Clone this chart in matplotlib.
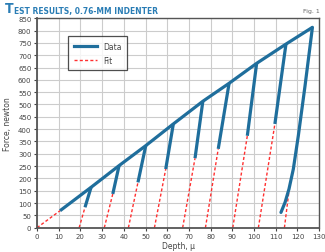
import numpy as np
import matplotlib.pyplot as plt

# --- datos ---
# curva de carga
load_depth = [10.6, 24.9, 37.8, 50.1, 62.8, 76.4, 88.5, 101.2, 114.7, 126.9]
load_force = [69, 164, 252, 333, 421, 513, 586, 667, 745, 813]

# descargas parciales (bajo, desde el pico hasta el punto inferior)
unload_bot_depth = [22.1, 34.9, 46.5, 59.3, 72.8, 83.5, 96.9, 109.6]
unload_bot_force = [83, 137, 184, 238, 282, 320, 373, 421]

# descarga final (curva)
final_depth = [126.9, 123.5, 120.4, 118.1, 116.1, 114.3, 112.4]
final_force = [813, 576, 373, 238, 157, 103, 62]

# ajustes: profundidad con fuerza cero
fit_zero = [19.4, 31.0, 42.1, 54.1, 67.1, 77.6, 90.2, 102.0]
final_fit_zero = 114.0
final_fit_top = (116.6, 184)

BLUE = '#1f6e9c'
RED = '#ff3030'
TXT = '#444444'
DASH = (0, (2.2, 1.6))

fig = plt.figure(figsize=(3.25, 2.53), dpi=100)
ax = fig.add_axes([0.114, 0.096, 0.868, 0.828])

# ajuste inicial desde el origen
ax.plot([0, load_depth[0]], [0, load_force[0]], color=RED, ls=DASH, lw=1.0, zorder=2)
for z, d, f in zip(fit_zero, unload_bot_depth, unload_bot_force):
    ax.plot([z, d], [0, f], color=RED, ls=DASH, lw=1.0, zorder=2)
ax.plot([final_fit_zero, final_fit_top[0]], [0, final_fit_top[1]], color=RED,
        ls=DASH, lw=1.0, zorder=2)

ax.plot(load_depth, load_force, color=BLUE, lw=2.3, solid_capstyle='butt',
        solid_joinstyle='round', zorder=3)
for i in range(len(unload_bot_depth)):
    ax.plot([load_depth[i + 1], unload_bot_depth[i]], [load_force[i + 1], unload_bot_force[i]],
            color=BLUE, lw=2.3, solid_capstyle='butt', zorder=3)
ax.plot(final_depth, final_force, color=BLUE, lw=2.3, solid_capstyle='round',
        solid_joinstyle='round', zorder=3)

# leyenda con handles propios
h1, = ax.plot([], [], color=BLUE, lw=2.3, label='Data')
h2, = ax.plot([], [], color=RED, ls=DASH, lw=1.0, label='Fit')
leg = ax.legend(handles=[h1, h2], loc='upper left', bbox_to_anchor=(0.11, 0.915),
                borderaxespad=0, fontsize=5.5, handlelength=3.0, frameon=True,
                fancybox=False, borderpad=0.75, labelspacing=0.65, handletextpad=0.8)
leg.get_frame().set_edgecolor('#222222')
leg.get_frame().set_linewidth(0.9)
for t in leg.get_texts():
    t.set_color(TXT)

ax.set_xlim(0, 130)
ax.set_ylim(0, 850)
ax.set_xticks(np.arange(0, 131, 10))
ax.set_yticks(np.arange(0, 851, 50))
ax.grid(True, color='#cccccc', lw=0.8)
ax.set_axisbelow(True)
ax.tick_params(labelsize=5, colors=TXT, length=2.5, width=0.8, pad=1.5)
for s in ax.spines.values():
    s.set_color('#555555')
    s.set_linewidth(1.0)
ax.spines['left'].set_linewidth(1.3)
ax.spines['bottom'].set_linewidth(1.3)

ax.set_xlabel('Depth, \u03bc', fontsize=5.5, color=TXT, labelpad=1.5)
ax.set_ylabel('Force, newton', fontsize=5.5, color=TXT, labelpad=4)

# titulo tipo versalitas
TBLUE = '#2a7db5'
t1 = fig.text(0.015, 0.949, 'T', fontsize=10, fontweight='bold', color=TBLUE,
              family='DejaVu Sans', fontstretch='condensed', va='baseline')
ax.annotate('EST RESULTS, 0.76-MM INDENTER', xy=(1.0, 0.0), xycoords=t1,
            fontsize=6.0, fontweight='bold', color=TBLUE, family='DejaVu Sans',
            fontstretch='condensed', va='bottom', ha='left', annotation_clip=False)
fig.text(0.985, 0.949, 'Fig. 1', fontsize=4.5, color='#666666', ha='right', va='baseline')

fig.savefig('out.png', dpi=100)
